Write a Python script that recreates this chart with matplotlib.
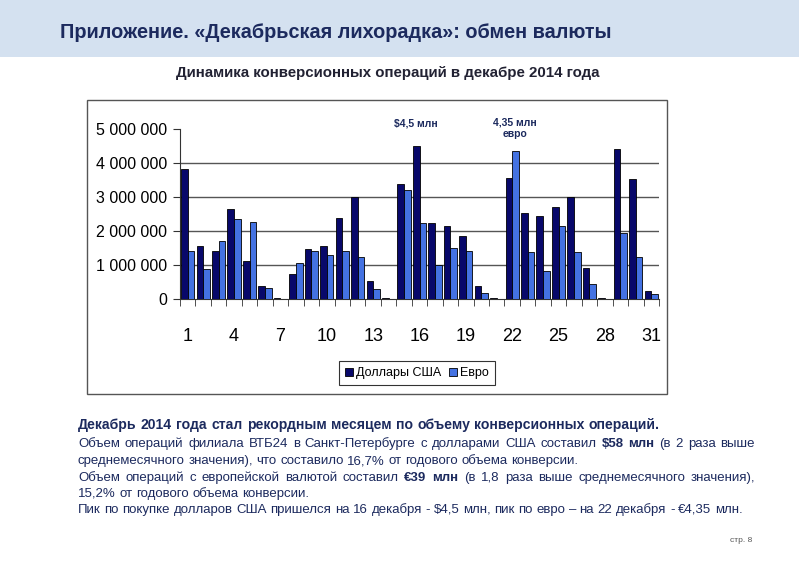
import matplotlib
matplotlib.use("Agg")
import matplotlib.pyplot as plt
from matplotlib.patches import Rectangle
import numpy as np

# ---- data ----
days = list(range(1, 32))
usd = [3.82, 1.55, 1.40, 2.65, 1.11, 0.37, 0.03, 0.74, 1.47, 1.55,
       2.38, 2.99, 0.52, 0.03, 3.38, 4.51, 2.25, 2.16, 1.84, 0.37,
       0.03, 3.56, 2.53, 2.45, 2.71, 2.99, 0.91, 0.03, 4.40, 3.52, 0.23]
eur = [1.42, 0.87, 1.70, 2.34, 2.26, 0.32, 0.01, 1.07, 1.42, 1.28,
       1.42, 1.25, 0.29, 0.01, 3.22, 2.24, 0.99, 1.50, 1.40, 0.18,
       0.01, 4.35, 1.39, 0.82, 2.16, 1.39, 0.44, 0.01, 1.94, 1.25, 0.15]
usd = [v * 1e6 for v in usd]
eur = [v * 1e6 for v in eur]
ytick_vals = [0, 1e6, 2e6, 3e6, 4e6, 5e6]
ytick_labels = ["0", "1 000 000", "2 000 000", "3 000 000", "4 000 000", "5 000 000"]
xtick_vals = [1, 4, 7, 10, 13, 16, 19, 22, 25, 28, 31]
series_names = ["Доллары США", "Евро"]

W, H = 799, 565
fig = plt.figure(figsize=(W / 100, H / 100), dpi=100)
fig.patch.set_facecolor("white")

def fx(px):
    return px / W

def fy(py):
    return 1 - py / H

NAVY = "#1c2a5e"
DARK = "#08086a"
LIGHT = "#4472e2"
SANS = ["Liberation Sans", "DejaVu Sans"]

# header band
fig.patches.append(Rectangle((0, fy(57)), 1, 57 / H, transform=fig.transFigure,
                             facecolor="#d4e1f0", edgecolor="none", zorder=-2))
fig.text(fx(60), fy(32), "Приложение. «Декабрьская лихорадка»: обмен валюты",
         fontsize=14.3, fontweight="bold", color=NAVY, va="center", ha="left",
         family=SANS)
fig.text(fx(388), fy(73), "Динамика конверсионных операций в декабре 2014 года",
         fontsize=10.8, fontweight="bold", color="#222233", va="center", ha="center",
         family=SANS)

# chart box
fig.patches.append(Rectangle((fx(87), fy(394)), (667 - 87) / W, (394 - 100) / H,
                             transform=fig.transFigure, facecolor="none",
                             edgecolor="#555555", linewidth=1.0, zorder=-1))

ax = fig.add_axes([fx(180), fy(299), (659 - 180) / W, (299 - 129) / H])
ax.set_zorder(2)
ax.set_facecolor("none")
x = np.array(days)
bw = 0.43
ax.bar(x - bw / 2, usd, width=bw, color=DARK, edgecolor="black", linewidth=0.6,
       label=series_names[0], zorder=3)
ax.bar(x + bw / 2, eur, width=bw, color=LIGHT, edgecolor="black", linewidth=0.6,
       label=series_names[1], zorder=3)
ax.set_xlim(0.5, 31.5)
ax.set_ylim(0, 5e6)
for v in ytick_vals[1:-1]:
    ax.axhline(v, color="#555555", linewidth=1.0, zorder=1)
for s in ["top", "right"]:
    ax.spines[s].set_visible(False)
ax.spines["left"].set_color("#333333")
ax.spines["bottom"].set_color("#333333")
ax.set_yticks(ytick_vals)
ax.set_yticklabels(ytick_labels, family=SANS, fontsize=11.5)
ax.tick_params(axis="y", length=5, pad=4, color="#333333")
ax.set_xticks(xtick_vals)
ax.set_xticklabels([str(v) for v in xtick_vals], family=SANS, fontsize=13)
ax.set_xticks(np.arange(0.5, 32, 1), minor=True)
ax.tick_params(axis="x", which="major", length=0, pad=21)
ax.tick_params(axis="x", which="minor", length=5, color="#333333")

ax.text(15.75, 5.15e6, "$4,5 млн", fontsize=7.5, fontweight="bold", color=NAVY,
        ha="center", va="center", family=SANS, parse_math=False, clip_on=False)
ax.text(22.2, 5.33e6, "4,35 млн\nевро", fontsize=7.5, fontweight="bold", color=NAVY,
        ha="center", va="top", family=SANS, linespacing=1.1, clip_on=False)

leg = fig.legend(loc="center", bbox_to_anchor=(fx(417), fy(373)), ncol=2,
                 frameon=True, fancybox=False, edgecolor="black",
                 handlelength=0.6, handleheight=0.6, handletextpad=0.3,
                 columnspacing=0.6, borderpad=0.45,
                 prop={"family": SANS, "size": 9})
leg.get_frame().set_linewidth(0.8)

# ---- text block ----
fig.canvas.draw()
renderer = fig.canvas.get_renderer()

def draw_line(segments, y_px, x0=78, justify_to=None, size=9.5, bold_size=None):
    if bold_size is None:
        bold_size = size
    words = []
    for txt, bold in segments:
        for w in txt.split(" "):
            if w:
                words.append((w, bold))
    arts = []
    widths = []
    for w, bold in words:
        t = fig.text(0, fy(y_px + 4), w, fontsize=bold_size if bold else size, color=NAVY,
                     fontweight="bold" if bold else "normal", family=SANS,
                     va="baseline", ha="left", parse_math=False)
        bb = t.get_window_extent(renderer)
        arts.append(t)
        widths.append(bb.width)
    sp = fig.text(0, 0, "a a", fontsize=size, family=SANS, parse_math=False)
    sp2 = fig.text(0, 0, "aa", fontsize=size, family=SANS, parse_math=False)
    space = sp.get_window_extent(renderer).width - sp2.get_window_extent(renderer).width
    sp.remove(); sp2.remove()
    if justify_to is not None and len(words) > 1:
        gap = (justify_to - x0 - sum(widths)) / (len(words) - 1)
    else:
        gap = space
    cur = x0
    for t, w in zip(arts, widths):
        t.set_x(fx(cur))
        cur += w + gap

draw_line([("Декабрь 2014 года стал рекордным месяцем по объему конверсионных операций.", True)],
          425, size=10.1, justify_to=660)
draw_line([("Объем операций филиала ВТБ24 в Санкт-Петербурге с долларами США составил ", False),
           ("$58 млн", True), (" (в 2 раза выше", False)], 443, justify_to=755)
draw_line([("среднемесячного значения), что составило 16,7% от годового объема конверсии.", False)], 460)
draw_line([("Объем операций с европейской валютой составил ", False), ("€39 млн", True),
           (" (в 1,8 раза выше среднемесячного значения),", False)], 477, justify_to=755)
draw_line([("15,2% от годового объема конверсии.", False)], 493)
draw_line([("Пик по покупке долларов США пришелся на 16 декабря - $4,5 млн, пик по евро – на 22 декабря - €4,35 млн.", False)], 509)

fig.text(fx(752), fy(540), "стр. 8", fontsize=6, color="#555555", ha="right",
         va="center", family=SANS)

fig.savefig("out.png", dpi=100)
